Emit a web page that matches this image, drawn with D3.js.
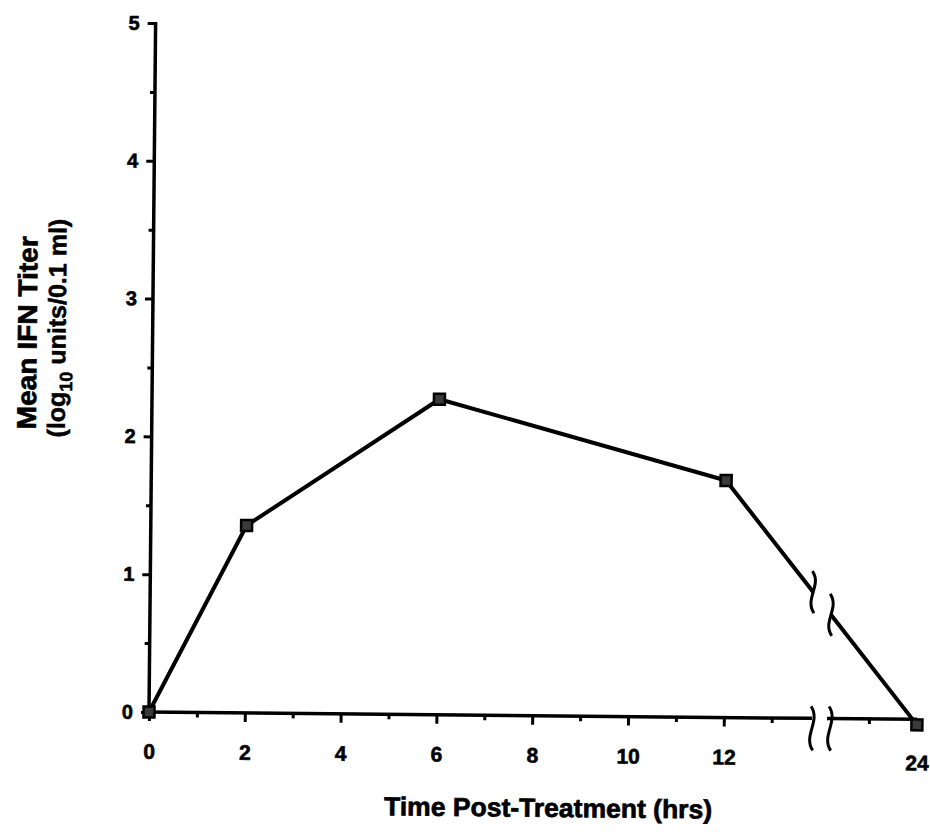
<!DOCTYPE html>
<html><head><meta charset="utf-8">
<script src="https://cdn.jsdelivr.net/npm/d3@7"></script>
<style>
body{margin:0;background:#fff}
text{font-family:"Liberation Sans",Arial,Helvetica,sans-serif;font-weight:bold;fill:#000}
</style>
</head><body>
<svg id="chart" width="930" height="836"></svg>
<script>
// ---- data ----
const times = [0, 2, 6, 12, 24];
const titers = [0, 1.36, 2.29, 1.72, -0.04];
const yTickValues = [0, 1, 2, 3, 4, 5];
const yMinorTickValues = [0.5, 1.5, 2.5, 3.5, 4.5];
const xTickValues = [0, 2, 4, 6, 8, 10, 12, 24];
const xMinorTickValues = [1, 3, 5, 7, 9, 11, 13, 23];
const axisBreak = [13.84, 22.19];
const xTitle = "Time Post-Treatment (hrs)";
const yTitle1 = "Mean IFN Titer";

// ---- layout ----
const svg = d3.select("#chart");
const pLeft = 149, pBottom = 712, pRight = 917, pTop = 23;
const g = svg.append("g").attr("transform", `rotate(0.55, ${pLeft}, ${pBottom})`);

const x = d3.scaleLinear()
  .domain([0, axisBreak[0], axisBreak[1], 24])
  .range([pLeft, 812, 830, pRight]);
const y = d3.scaleLinear().domain([0, 5]).range([pBottom, pTop]);

const squiggle = (cx, cy, h) =>
  `M${cx - 1},${cy - h / 2} C${cx + 9},${cy - h / 6} ${cx - 9},${cy + h / 6} ${cx + 1},${cy + h / 2}`;

// ---- y axis ----
const yAxis = d3.axisLeft(y).tickValues(yTickValues).tickSize(8).tickPadding(8)
  .tickFormat(d3.format("d"));
const yAx = g.append("g").attr("transform", `translate(${pLeft},0)`).call(yAxis);
yAx.select(".domain").remove();
yAx.selectAll("line").attr("stroke", "#000").attr("stroke-width", 3);
yAx.selectAll("text").attr("font-size", 20).attr("fill", "#000")
  .attr("stroke", "#000").attr("stroke-width", 0.6);

const yMinor = g.append("g").attr("transform", `translate(${pLeft},0)`)
  .call(d3.axisLeft(y).tickValues(yMinorTickValues).tickSize(5).tickFormat(""));
yMinor.select(".domain").remove();
yMinor.selectAll("line").attr("stroke", "#000").attr("stroke-width", 3);

g.append("line").attr("x1", pLeft).attr("x2", pLeft).attr("y1", y(0) + 2).attr("y2", y(5) - 1)
  .attr("stroke", "#000").attr("stroke-width", 3.5);

// ---- x axis ----
const xAxis = d3.axisBottom(x).tickValues(xTickValues).tickSize(9).tickPadding(23)
  .tickFormat(d3.format("d"));
const xAx = g.append("g").attr("transform", `translate(0,${pBottom})`).call(xAxis);
xAx.select(".domain").remove();
xAx.selectAll("line").attr("stroke", "#000").attr("stroke-width", 3);
xAx.selectAll("text").attr("font-size", 21).attr("fill", "#000")
  .attr("stroke", "#000").attr("stroke-width", 0.6)
  .attr("dy", d => d === 24 ? "0.9em" : "0.71em");

const xMinor = g.append("g").attr("transform", `translate(0,${pBottom})`)
  .call(d3.axisBottom(x).tickValues(xMinorTickValues).tickSize(5).tickFormat(""));
xMinor.select(".domain").remove();
xMinor.selectAll("line").attr("stroke", "#000").attr("stroke-width", 3);

// axis line with break
[[0, axisBreak[0]], [axisBreak[1], 24]].forEach(([a, b]) => {
  g.append("line").attr("x1", x(a) - 3).attr("x2", x(b))
    .attr("y1", y(0)).attr("y2", y(0))
    .attr("stroke", "#000").attr("stroke-width", 3.5);
});
axisBreak.forEach(v => {
  g.append("path").attr("d", squiggle(x(v), y(0) + 10, 44))
    .attr("fill", "none").attr("stroke", "#000").attr("stroke-width", 3);
});

// ---- data line (with break) ----
const pts = times.map((t, i) => [x(t), y(titers[i])]);
const bx0 = x(axisBreak[0]), bx1 = x(axisBreak[1]);
const pA = pts[3], pB = pts[4];
const interp = px => pA[1] + (pB[1] - pA[1]) * (px - pA[0]) / (pB[0] - pA[0]);
const seg1 = pts.slice(0, 4).concat([[bx0, interp(bx0)]]);
const seg2 = [[bx1, interp(bx1)], pB];
const line = d3.line();
[seg1, seg2].forEach(s => {
  g.append("path").attr("d", line(s)).attr("fill", "none")
    .attr("stroke", "#000").attr("stroke-width", 4).attr("stroke-linejoin", "round");
});
[bx0, bx1].forEach(bx => {
  g.append("path").attr("d", squiggle(bx, interp(bx), 42))
    .attr("fill", "none").attr("stroke", "#000").attr("stroke-width", 3);
});

// markers
g.selectAll("rect.mk").data(times).enter().append("rect").attr("class", "mk")
  .attr("x", d => x(d) - 5.5).attr("y", (d, i) => y(titers[i]) - 5.5)
  .attr("width", 11).attr("height", 11)
  .attr("fill", "#3a3a3a").attr("stroke", "#000").attr("stroke-width", 2.5);

// ---- titles ----
g.append("text").attr("x", 549).attr("y", 813).attr("text-anchor", "middle")
  .attr("font-size", 26).attr("textLength", 328).attr("lengthAdjust", "spacingAndGlyphs")
  .attr("stroke", "#000").attr("stroke-width", 0.7)
  .text(xTitle);

g.append("text").attr("transform", "translate(33,334) rotate(-90)")
  .attr("text-anchor", "middle").attr("font-size", 27)
  .attr("textLength", 193).attr("lengthAdjust", "spacingAndGlyphs")
  .attr("stroke", "#000").attr("stroke-width", 0.7)
  .text(yTitle1);

const t2 = g.append("text").attr("transform", "translate(62,329) rotate(-90)")
  .attr("text-anchor", "middle").attr("font-size", 25)
  .attr("stroke", "#000").attr("stroke-width", 0.5);
t2.append("tspan").text("(log");
t2.append("tspan").attr("font-size", 18).attr("dy", 7).text("10");
t2.append("tspan").attr("dy", -7).text(" units/0.1 ml)");
</script>
</body></html>
